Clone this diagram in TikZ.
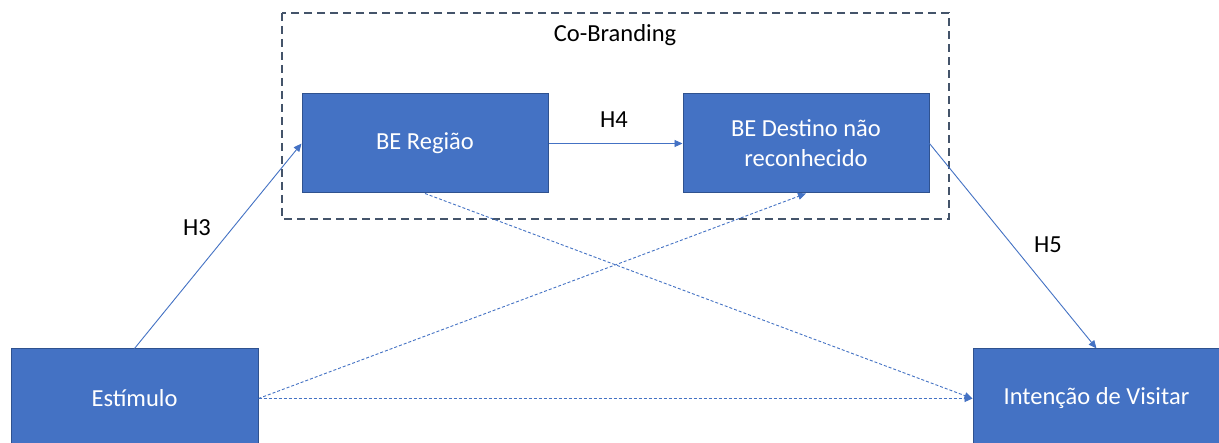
\documentclass[tikz,border=0pt]{standalone}
\usepackage{fontspec}
\setmainfont{Carlito}
\usetikzlibrary{arrows.meta}
\definecolor{boxblue}{HTML}{4472C4}
\definecolor{boxedge}{HTML}{2F528F}
\definecolor{groupedge}{HTML}{44546A}
\tikzset{
  block/.style={draw=boxedge, line width=1pt, fill=boxblue, text=white,
    minimum width=246pt, minimum height=99pt, inner sep=0pt,
    align=center, font=\fontsize{24.5}{30}\selectfont},
  link/.style={draw=boxblue, line width=0.9pt, -{Triangle[length=8pt,width=7pt]}},
  dotlink/.style={link, dash pattern=on 3pt off 2pt},
  hlabel/.style={font=\fontsize{24.5}{29}\selectfont, text=black}
}
\begin{document}
\begin{tikzpicture}[x=1pt, y=-1pt]
  \useasboundingbox (0,0) rectangle (1219,443);
  \clip (0,0) rectangle (1219,443);
  \fill[white] (0,0) rectangle (1219,443);

  % co-branding group
  \draw[groupedge, line width=1.4pt, dash pattern=on 8pt off 5pt] (282,13) rectangle (949,219);
  \node[hlabel] (cob) at (615,35) {Co-Branding};

  % constructs
  \node[block, minimum width=247pt] (est) at (134.5,398.5) {Estímulo};
  \node[block, minimum width=247pt] (int) at (1096.5,398.5) {Intenção de Visitar};
  \node[block] (reg) at (425,143.5) {BE Região};
  \node[block] (dest) at (806,143.5) {BE Destino não\\reconhecido};

  % hypotheses
  \draw[link] (est.north) -- (reg.west);
  \draw[link] (reg.east) -- (dest.west);
  \draw[link] (dest.east) -- (int.north);
  \draw[dotlink] (reg.south) -- (int.west);
  \draw[dotlink] (est.east) -- (dest.south);
  \draw[dotlink] (est.east) -- (int.west);

  \node[hlabel] (h3) at (197,228) {H3};
  \node[hlabel] (h4) at (614,120) {H4};
  \node[hlabel] (h5) at (1048,245) {H5};
\end{tikzpicture}
\end{document}
